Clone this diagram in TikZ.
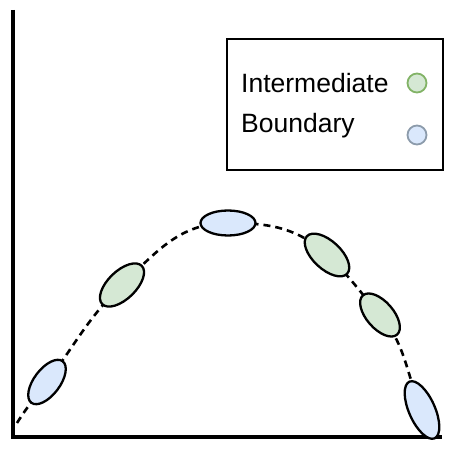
\documentclass[tikz,border=0pt]{standalone}
\usepackage{fontspec}
\setmainfont{Liberation Sans}
\usetikzlibrary{shapes.geometric, backgrounds}

\begin{document}
\begin{tikzpicture}[x=1pt,y=1pt]
\useasboundingbox (0,0) rectangle (450,450);

% Colors
\definecolor{interfill}{HTML}{D5E8D4}
\definecolor{interline}{HTML}{82B366}
\definecolor{boundfill}{HTML}{DAE8FC}
\definecolor{boundline}{HTML}{8C9BAB}

% Axes
\coordinate (origin) at (13,13);
\coordinate (ytop) at (13,440);
\coordinate (xend) at (442,13);
\draw[line width=3.5pt] (ytop) -- (origin) -- (xend);

% Points along the path
\foreach \n/\x/\y/\a/\w/\h/\c in {b1/47/68/53/52/26/boundfill,g1/122/165/44/55/28/interfill,b2/228/227/0/55/25/boundfill,g2/327/195/-43/55/28/interfill,g3/380/135/-49/52/27/interfill,b3/422/40/-66/62/26/boundfill} {
    \node[ellipse, draw, line width=2.3pt, fill=\c, minimum width=\w pt, minimum height=\h pt, inner sep=0pt, rotate=\a] (\n) at (\x,\y) {};
}

% Dashed path
\begin{scope}[on background layer]
\coordinate (start) at (17,27);
\draw[line width=2.6pt, dash pattern=on 7pt off 5pt] (start) to[out=58,in=233] (b1.center) to[out=53,in=224] (g1.center) to[out=44,in=180] (b2.center) to[out=0,in=137] (g2.center) to[out=-43,in=131] (g3.center) to[out=-49,in=114] (b3.center);
\end{scope}

% Legend
\node[draw, line width=2pt, minimum width=216pt, minimum height=131pt, inner sep=0pt] (legend) at (335,345.5) {};
\node[anchor=base west, inner sep=0pt, font=\fontsize{26.5}{30}\selectfont] (interlabel) at (241,357) {Intermediate};
\node[anchor=base west, inner sep=0pt, font=\fontsize{26.5}{30}\selectfont] (boundlabel) at (241,317) {Boundary};
\node[circle, draw=interline, fill=interfill, line width=1.8pt, minimum size=19pt, inner sep=0pt] (interkey) at (417,367) {};
\node[circle, draw=boundline, fill=boundfill, line width=1.8pt, minimum size=19pt, inner sep=0pt] (boundkey) at (417,315) {};

\end{tikzpicture}
\end{document}
